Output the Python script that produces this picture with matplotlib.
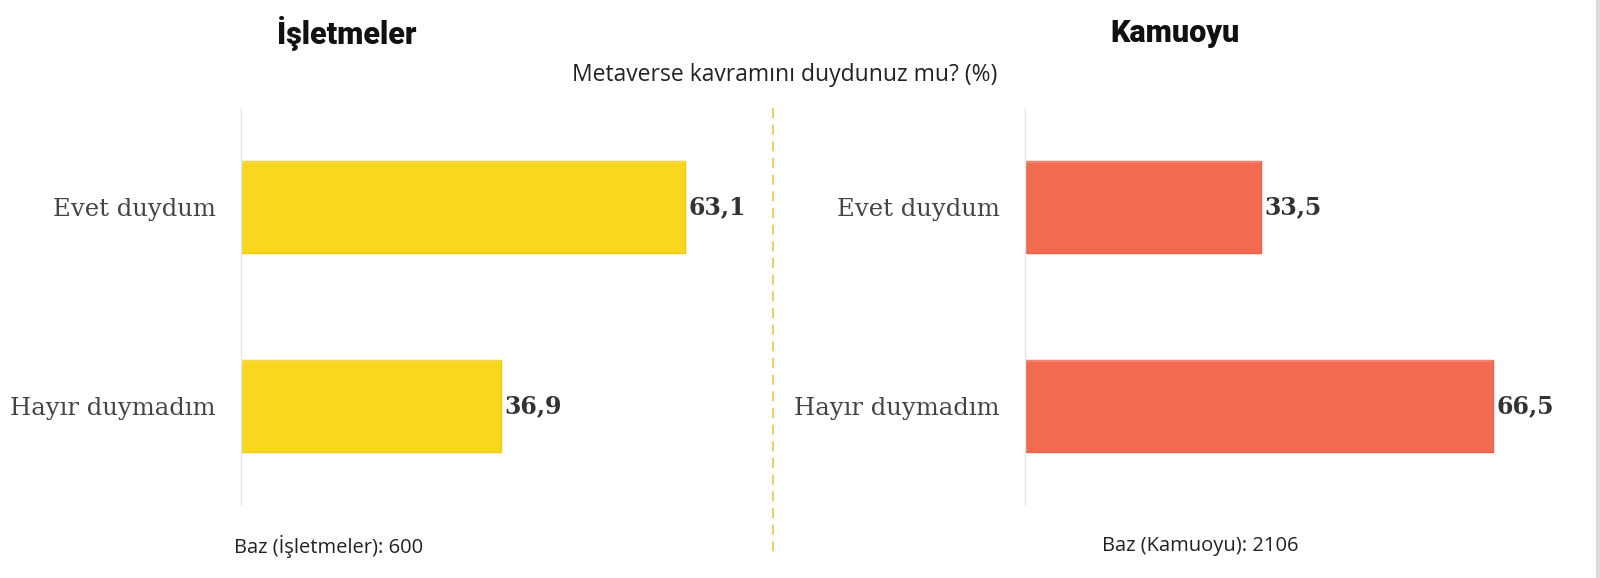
import matplotlib
matplotlib.use("Agg")
import matplotlib.pyplot as plt
from matplotlib.patches import Rectangle
from matplotlib.lines import Line2D

categories = ["Evet duydum", "Hayır duymadım"]
isletmeler = [63.1, 36.9]
kamuoyu = [33.5, 66.5]
value_labels_left = ["63,1", "36,9"]
value_labels_right = ["33,5", "66,5"]
titles = ["İşletmeler", "Kamuoyu"]
subtitle = "Metaverse kavramını duydunuz mu? (%)"
bases = ["Baz (İşletmeler): 600", "Baz (Kamuoyu): 2106"]

YELLOW = "#F9D71F"
CORAL = "#F26B51"

fig = plt.figure(figsize=(16, 5.78), dpi=100)
fig.patch.set_facecolor("white")

W, H = 1600, 578
def axes_px(left, top, right, bottom):
    return [left / W, 1 - bottom / H, (right - left) / W, (bottom - top) / H]

ax_l = fig.add_axes(axes_px(241, 108, 734, 505))
ax_r = fig.add_axes(axes_px(1025, 108, 1518, 505))

def draw(ax, vals, labels, color, edge):
    y = list(range(len(categories)))
    ax.barh(y, vals, height=0.465, color=color, edgecolor=edge, linewidth=1.0, zorder=2)
    # subtle bevel highlight along the top
    ax.barh([yy - 0.226 for yy in y], vals, height=0.01, color="white", alpha=0.2,
            linewidth=0, zorder=3)
    ax.set_xlim(0, 70)
    ax.set_ylim(1.5, -0.5)
    ax.set_yticks(y)
    ax.set_yticklabels(categories, family="DejaVu Serif", fontsize=17.5, color="#444444")
    ax.tick_params(axis="y", length=0, pad=18)
    ax.set_xticks([])
    for s in ["top", "right", "bottom"]:
        ax.spines[s].set_visible(False)
    ax.spines["left"].set_color("#e6e6e6")
    ax.spines["left"].set_linewidth(1)
    for yy, v, t in zip(y, vals, labels):
        ax.text(v + 0.5, yy, t, va="center", ha="left", family="DejaVu Serif",
                fontweight="bold", fontsize=17, color="#333333")
    ax.set_facecolor("none")

draw(ax_l, isletmeler, value_labels_left, YELLOW, "#EFC814")
draw(ax_r, kamuoyu, value_labels_right, CORAL, "#E86048")

fig.text(347 / W, 1 - 33 / H, titles[0], ha="center", va="center", family="Roboto",
         fontweight="black", fontsize=22, color="#111111")
fig.text(1175 / W, 1 - 33 / H, titles[1], ha="center", va="center", family="Roboto",
         fontweight="black", fontsize=22, color="#111111")
fig.text(785 / W, 1 - 75 / H, subtitle, ha="center", va="center", family="Open Sans",
         fontsize=16.5, color="#222222")
fig.text(234 / W, 1 - 546 / H, bases[0], ha="left", va="center", family="Open Sans",
         fontsize=14.5, color="#222222")
fig.text(1200 / W, 1 - 546 / H, bases[1], ha="center", va="center", family="Open Sans",
         fontsize=14.5, color="#222222")

fig.add_artist(Line2D([773 / W, 773 / W], [1 - 108 / H, 1 - 556 / H], transform=fig.transFigure,
                      color="#EBC54A", linewidth=1.2, linestyle=(0, (6, 4))))
fig.add_artist(Rectangle((1596 / W, 0), 4 / W, 1, transform=fig.transFigure,
                         facecolor="#dcdcdc", edgecolor="none"))

fig.savefig("out.png", dpi=100)
